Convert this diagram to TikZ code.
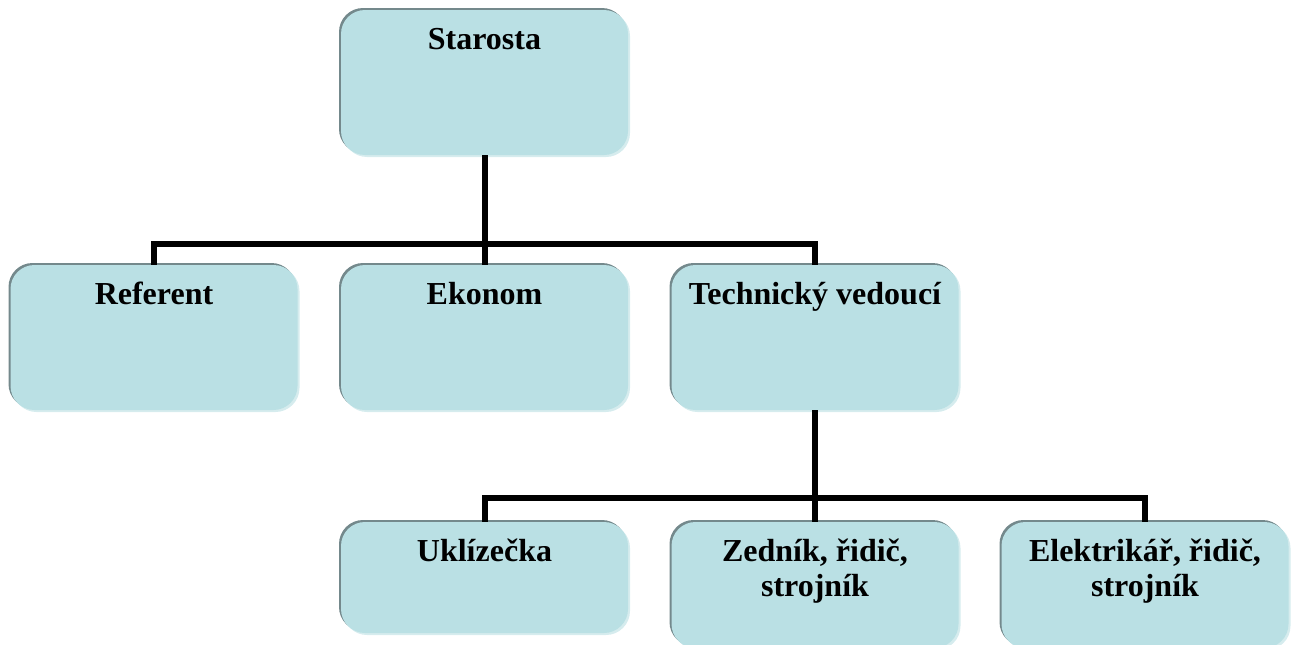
\documentclass[tikz,border=0pt]{standalone}
\usepackage{fontspec}
\setmainfont{Liberation Serif}
\usepackage{xcolor}
\definecolor{boxfill}{HTML}{BAE0E4}
\definecolor{boxdark}{HTML}{74898C}
\definecolor{boxlight}{HTML}{D6ECEE}
\newcommand{\boxtext}[2]{\parbox[c][#1pt][t]{270pt}{\centering\vspace*{15pt}\strut #2}}

\begin{document}
\begin{tikzpicture}[x=1pt,y=1pt]
					\tikzstyle{unit} = [rectangle,rounded corners=24pt,fill=boxfill,minimum width=287pt,inner sep=0pt,
						font=\fontsize{32}{35}\selectfont\bfseries,
						preaction={fill=boxlight,transform canvas={xshift=2pt,yshift=-2pt}},
						preaction={fill=boxdark,transform canvas={xshift=-2pt,yshift=2pt}}]
					\tikzstyle{edge} = [-,line width=6pt]
					\useasboundingbox (0,0) rectangle (1291,-645);
					\node[unit,minimum height=145pt] (star) at (484.5,-82.5) {\boxtext{145}{Starosta}};
					\node[unit,minimum height=145pt] (ref) at (154,-337.5) {\boxtext{145}{Referent}};
					\node[unit,minimum height=145pt] (eko) at (484.5,-337.5) {\boxtext{145}{Ekonom}};
					\node[unit,minimum height=145pt] (tech) at (815,-337.5) {\boxtext{145}{Technický vedoucí}};
					\node[unit,minimum height=111pt] (ukl) at (484.5,-577.5) {\boxtext{111}{Uklízečka}};
					\node[unit,minimum height=126pt] (zed) at (815,-585) {\boxtext{126}{Zedník, řidič,\\ strojník}};
					\node[unit,minimum height=126pt] (ele) at (1145,-585) {\boxtext{126}{Elektrikář, řidič,\\ strojník}};
					\coordinate (j1) at (484.5,-244);
					\coordinate (j2) at (815,-498);
					\draw[edge] (star.south) -- (eko.north);
					\draw[edge] (ref.north) -- (ref.north |- j1) -- (j1 -| tech.north) -- (tech.north);
					\draw[edge] (tech.south) -- (zed.north);
					\draw[edge] (ukl.north) -- (ukl.north |- j2) -- (j2 -| ele.north) -- (ele.north);
					\end{tikzpicture}
\end{document}
